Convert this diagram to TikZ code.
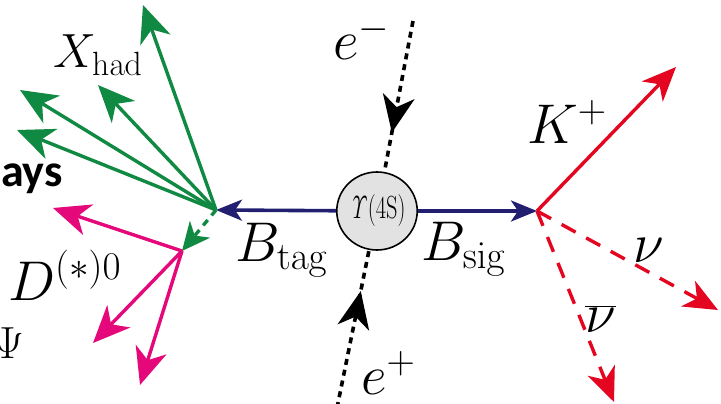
\RequirePackage{fix-cm}
\documentclass[tikz,border=0pt]{standalone}
\usepackage[no-math]{fontspec}
\usetikzlibrary{arrows.meta,shapes.geometric,decorations.markings}
\newfontfamily\slidefont{Carlito}
\definecolor{hadgreen}{RGB}{16,138,66}
\definecolor{dpink}{RGB}{228,8,122}
\definecolor{sigred}{RGB}{228,6,32}
\definecolor{bnavy}{RGB}{34,30,112}
\definecolor{upsgray}{RGB}{226,226,226}

\begin{document}
\begin{tikzpicture}[x=1pt, y=-1pt,
  lab/.style={inner sep=0pt, anchor=base west, font=\fontsize{56}{60}\selectfont},
  tip/.style={-{Stealth[length=37pt, width=32pt, inset=11pt]}},
  had/.style={tip, draw=hadgreen, line width=3.4pt},
  dk/.style={tip, draw=dpink, fill=dpink, line width=3.4pt},
  sig/.style={draw=sigred, line width=3.4pt, -{Stealth[length=34pt, width=29pt, inset=10pt]}},
  nu/.style={sig, dash pattern=on 16pt off 12pt},
  bline/.style={draw=bnavy, line width=3.6pt, -{Stealth[length=26pt, width=21pt, inset=7pt]}},
  eline/.style={line width=3.6pt, dash pattern=on 6pt off 5pt, postaction={decorate},
    decoration={markings, mark=at position 0.74 with {\arrow{Stealth[length=37pt, width=32pt, inset=11pt]}}}}
]
\useasboundingbox (0,0) rectangle (721,404);
\clip (0,0) rectangle (721,404);

% Upsilon(4S) and beam
\node[ellipse, draw, line width=1.6pt, fill=upsgray, minimum width=68pt, minimum height=78pt,
  inner sep=0pt] (ups) at (377,211) {\fontsize{32}{34}\selectfont\scalebox{0.7}[1]{$\mathit{\Upsilon}$(4S)}};
\coordinate (em) at (413,21);
\coordinate (ep) at (337,408);
\draw[eline] (em) -- (ups);
\draw[eline] (ep) -- (ups);
\node[lab] (elm) at (333,60) {$e^-$};
\node[lab] (elp) at (361,394) {$e^+$};

% B mesons
\coordinate (tagv) at (216,210);
\coordinate (sigv) at (537,211);
\draw[bline] (ups) -- (tagv);
\draw[bline] (ups) -- (sigv);
\node[lab] (btag) at (235,261) {$B_{\mathrm{tag}}$};
\node[lab] (bsig) at (421,260) {$B_{\mathrm{sig}}$};

% tag side
\coordinate (h1) at (143,5);
\coordinate (h2) at (98,85);
\coordinate (h3) at (20,90);
\coordinate (h4) at (17,130);
\foreach \h in {h1,h2,h3,h4}
  \draw[had] (tagv) -- (\h);
\node[lab, font=\fontsize{48}{52}\selectfont] (xhad) at (53,68) {$X_{\mathrm{had}}$};
\coordinate (dv) at (182,251);
\draw[had, dash pattern=on 7pt off 6pt, -{Stealth[length=28pt, width=26pt, inset=8pt]}] (tagv) -- (dv);
\coordinate (d1) at (53,208);
\coordinate (d2) at (93,343);
\coordinate (d3) at (140,385);
\foreach \d in {d1,d2,d3}
  \draw[dk] (dv) -- (\d);
\node[lab] (dst) at (8,300) {$D^{(*)0}$};
\node[lab, anchor=base east, font=\fontsize{45}{50}\selectfont] (psi) at (24,358) {$\Psi$};
\node[inner sep=0pt, anchor=base east, font=\slidefont\bfseries\fontsize{46}{50}\selectfont] (decays) at (63,186) {ays};

% signal side
\coordinate (kp) at (676,67);
\coordinate (nv) at (718,310);
\coordinate (nb) at (614,402);
\draw[sig] (sigv) -- (kp);
\draw[nu] (sigv) -- (nv);
\draw[nu] (sigv) -- (nb);
\node[lab] (kl) at (527,143) {$K^+$};
\node[lab] (nl) at (633,262) {$\nu$};
\node[lab] (nbl) at (585,332) {$\overline{\nu}$};
\end{tikzpicture}
\end{document}
